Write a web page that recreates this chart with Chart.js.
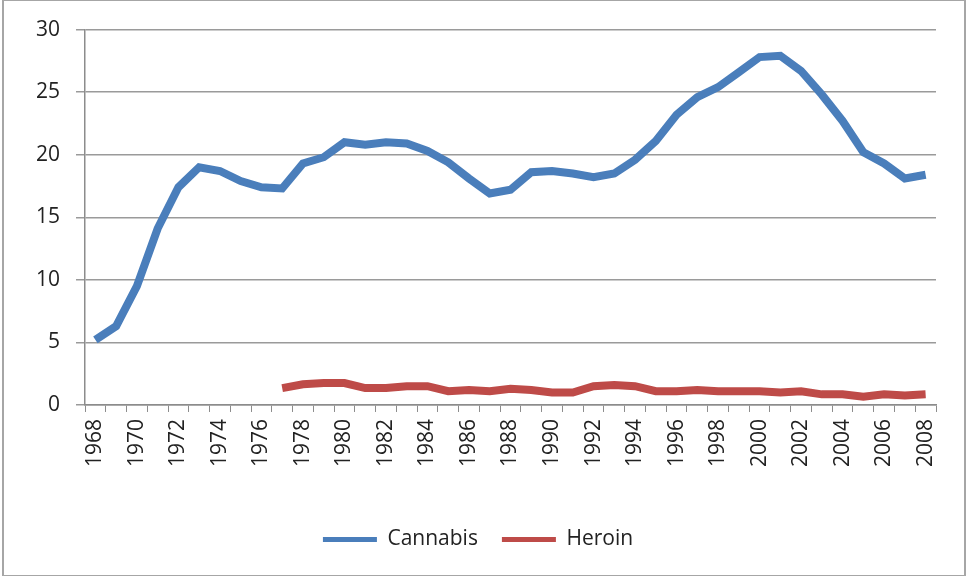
<!DOCTYPE html>
<html>
<head>
<meta charset="utf-8">
<script src="https://cdn.jsdelivr.net/npm/chart.js@4/dist/chart.umd.min.js"></script>
<style>
  html, body { margin: 0; padding: 0; background: #fff; }
  #wrap {
    position: absolute; left: 2px; top: -1px;
    width: 960px; height: 574px;
    border: 2px solid #a6a6a6;
    background: #fff;
  }
</style>
</head>
<body>
<div id="wrap"><canvas id="myChart" width="960" height="574"></canvas></div>
<script>
const years = [];
for (let y = 1968; y <= 2008; y++) years.push(String(y));

const cannabis = [5.2, 6.3, 9.5, 14.1, 17.4, 19.0, 18.7, 17.9, 17.4, 17.3,
  19.3, 19.8, 21.0, 20.8, 21.0, 20.9, 20.3, 19.4, 18.1, 16.9,
  17.2, 18.6, 18.7, 18.5, 18.2, 18.5, 19.6, 21.1, 23.2, 24.6,
  25.4, 26.6, 27.8, 27.9, 26.7, 24.8, 22.7, 20.2, 19.3, 18.1, 18.4];

const heroin = [null, null, null, null, null, null, null, null, null, 1.35,
  1.65, 1.75, 1.75, 1.35, 1.35, 1.5, 1.5, 1.1, 1.2, 1.1,
  1.3, 1.2, 1.0, 1.0, 1.5, 1.6, 1.5, 1.1, 1.1, 1.2,
  1.1, 1.1, 1.1, 1.0, 1.1, 0.85, 0.85, 0.65, 0.85, 0.75, 0.85];

const yTicks = [0, 5, 10, 15, 20, 25, 30];

const font = { family: "'Open Sans', 'DejaVu Sans', sans-serif", size: 21 };

const ctx = document.getElementById("myChart");

new Chart(ctx, {
  type: "line",
  data: {
    labels: years,
    datasets: [
      {
        label: "Cannabis",
        data: cannabis,
        borderColor: "#4a7ebb",
        backgroundColor: "#4a7ebb",
        borderWidth: 8,
        pointRadius: 0,
        tension: 0,
      },
      {
        label: "Heroin",
        data: heroin,
        borderColor: "#be4b48",
        backgroundColor: "#be4b48",
        borderWidth: 8,
        pointRadius: 0,
        tension: 0,
      },
    ],
  },
  options: {
    responsive: false,
    animation: false,
    layout: { padding: { left: 16, right: 28, top: 20, bottom: 15 } },
    plugins: {
      tooltip: { enabled: false },
      legend: {
        position: "bottom",
        labels: {
          font: font,
          color: "#222",
          boxWidth: 54,
          boxHeight: 5,
          padding: 24,
          generateLabels: (chart) =>
            Chart.defaults.plugins.legend.labels.generateLabels(chart).map((l) => {
              l.lineWidth = 0;
              return l;
            }),
        },
      },
    },
    scales: {
      x: {
        offset: true,
        afterFit: (scale) => {
          scale.height += 31;
        },
        grid: {
          offset: true,
          drawOnChartArea: false,
          tickLength: 7,
          color: "#8c8c8c",
        },
        border: { color: "#8c8c8c", width: 1.5 },
        ticks: {
          autoSkip: false,
          minRotation: 90,
          maxRotation: 90,
          font: font,
          color: "#222",
          padding: 7,
          callback: function (v, i) {
            return i % 2 === 0 ? years[i] : "";
          },
        },
      },
      y: {
        min: 0,
        max: 30,
        afterBuildTicks: (axis) => {
          axis.ticks = yTicks.map((v) => ({ value: v }));
        },
        grid: { color: "#9a9a9a", lineWidth: 1.5, tickLength: 9 },
        border: { color: "#8c8c8c", width: 1.5 },
        ticks: { font: font, color: "#222", padding: 16 },
      },
    },
  },
});
</script>
</body>
</html>
